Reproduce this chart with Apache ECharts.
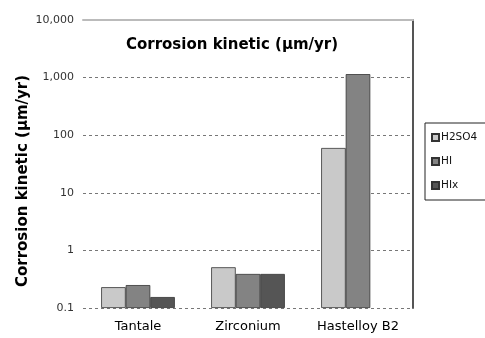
<!DOCTYPE html>
<html>
<head>
<meta charset="utf-8">
<script src="https://cdn.jsdelivr.net/npm/echarts@6/dist/echarts.min.js"></script>
<style>
  html, body { margin: 0; padding: 0; background: #fff; }
  #chart { width: 485px; height: 338px; }
</style>
</head>
<body>
<div id="chart"></div>
<script>
// Corrosion kinetics of three metals in the sulfur–iodine cycle media
const materials = ['Tantale', 'Zirconium', 'Hastelloy B2'];
const seriesNames = ['H2SO4', 'HI', 'HIx'];
const h2so4 = [0.23, 0.51, 60];
const hi = [0.25, 0.39, 1150];
const hix = [0.155, 0.39, null];
const yTickLabels = { '0.1': '0.1', '1': '1', '10': '10', '100': '100', '1000': '1,000', '10000': '10,000' };

const colors = ['#c9c9c9', '#838383', '#555555'];
const values = [h2so4, hi, hix];
const FONT = 'DejaVu Sans, Verdana, sans-serif';

const chart = echarts.init(document.getElementById('chart'), null, { renderer: 'canvas' });
chart.setOption({
  animation: false,
  backgroundColor: '#ffffff',
  textStyle: { fontFamily: FONT },
  title: {
    text: 'Corrosion kinetic (µm/yr)',
    left: 227, top: 33, textAlign: 'center',
    textStyle: { fontSize: 15, fontWeight: 'bold', color: '#000', fontFamily: FONT }
  },
  legend: {
    orient: 'vertical',
    left: 425, top: 123,
    itemWidth: 7, itemHeight: 7, itemGap: 13,
    padding: [9, 20, 9, 6],
    borderColor: '#222', borderWidth: 1,
    backgroundColor: '#fff',
    textStyle: { fontSize: 10.5, color: '#111', padding: [0, 0, 0, -3], fontFamily: FONT },
    data: seriesNames,
    icon: 'rect'
  },
  grid: { left: 83, right: 72, top: 20, bottom: 30 },
  xAxis: [{
    type: 'category',
    data: materials,
    axisLine: { show: false },
    axisTick: { show: false },
    axisLabel: { fontSize: 13, color: '#000', margin: 12, fontFamily: FONT }
  }, {
    type: 'category',
    position: 'top',
    data: materials,
    axisLine: { show: true, lineStyle: { color: '#bbbbbb', width: 2 } },
    axisTick: { show: false },
    axisLabel: { show: false }
  }],
  yAxis: [{
    type: 'log',
    logBase: 10,
    min: 0.1,
    max: 10000,
    startValue: 0.1,
    name: 'Corrosion kinetic (µm/yr)',
    nameLocation: 'middle',
    nameGap: 52,
    nameMoveOverlap: false,
    nameTextStyle: { fontSize: 15, fontWeight: 'bold', color: '#000', fontFamily: FONT, padding: [0, 34, 0, 0] },
    axisLine: { show: false },
    axisTick: { show: false },
    axisLabel: {
      fontSize: 11, color: '#333', margin: 9, fontFamily: FONT,
      formatter: v => yTickLabels[String(+v.toPrecision(6))] || ''
    },
    splitLine: { show: true, lineStyle: { color: '#777', type: [3, 3], width: 1 } }
  }, {
    type: 'log',
    logBase: 10,
    min: 0.1,
    max: 10000,
    position: 'right',
    axisLine: { show: true, lineStyle: { color: '#555', width: 2 } },
    axisTick: { show: false },
    axisLabel: { show: false },
    splitLine: { show: false }
  }],
  series: seriesNames.map((name, i) => ({
    name: name,
    type: 'bar',
    data: values[i],
    barGap: '0%',
    barCategoryGap: '33%',
    itemStyle: { color: colors[i], borderColor: '#333', borderWidth: 0.8 }
  }))
});
</script>
</body>
</html>
